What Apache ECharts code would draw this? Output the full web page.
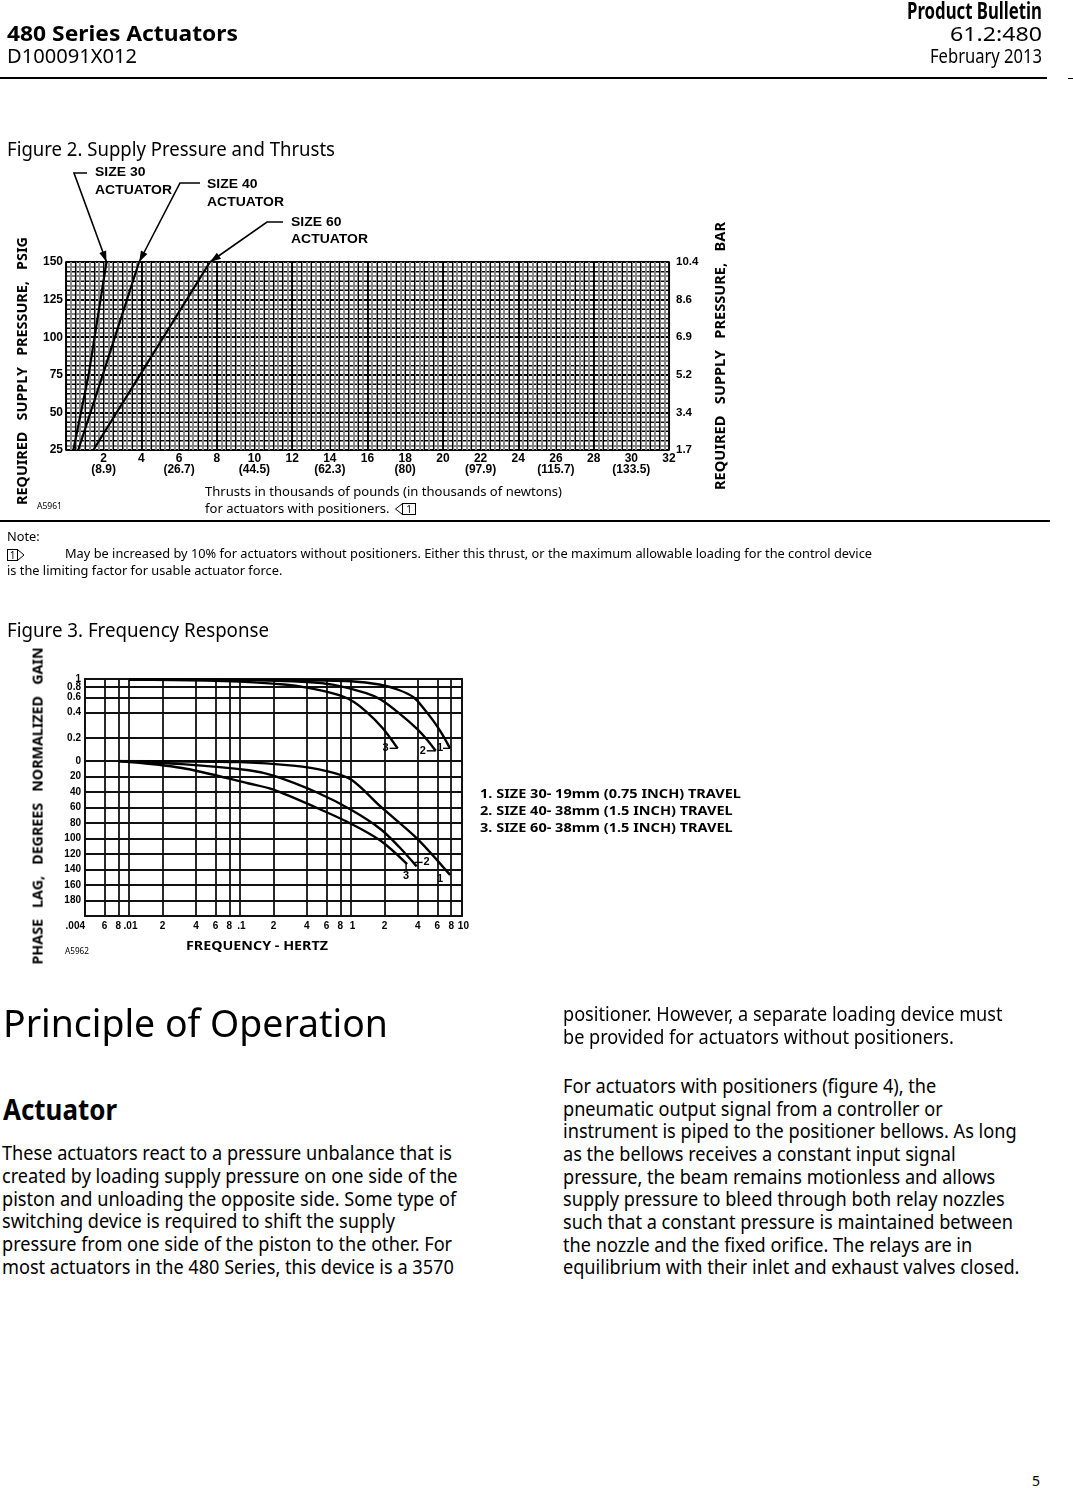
<!DOCTYPE html>
<html>
<head>
<meta charset="utf-8">
<title>480 Series Actuators</title>
<script src="https://cdn.jsdelivr.net/npm/echarts@6.0.0/dist/echarts.min.js"></script>
<style>
html,body{margin:0;padding:0;background:#fff;}
body{position:relative;width:1073px;height:1488px;overflow:hidden;font-family:'Noto Sans',sans-serif;color:#000;}
#chart{position:absolute;left:0;top:0;width:1073px;height:1000px;}
.tx{position:absolute;white-space:pre;line-height:1;transform-origin:0 0;color:#000;}
.rule{position:absolute;background:#000;}
svg.sym{position:absolute;left:0;top:0;overflow:visible;}
</style>
</head>
<body>
<div id="chart"></div>
<div class="rule" style="left:0;top:77px;width:1047px;height:2px"></div>
<div class="rule" style="left:1068px;top:78px;width:5px;height:1px"></div>
<div class="rule" style="left:0;top:520px;width:1050px;height:2px"></div>
<svg class="sym" width="1073" height="600">
  <polyline points="402.5,503.5 395.5,509 402.5,514.5" fill="none" stroke="#000" stroke-width="1"/>
  <rect x="402.5" y="503.5" width="13" height="11" fill="none" stroke="#000" stroke-width="1"/>
  <text x="409" y="513" font-family="Noto Sans" font-size="10" text-anchor="middle">1</text>
  <rect x="7.5" y="549.5" width="10" height="11" fill="none" stroke="#000" stroke-width="1"/>
  <polyline points="17.5,549.5 24,555 17.5,560.5" fill="none" stroke="#000" stroke-width="1"/>
  <text x="12.5" y="559" font-family="Noto Sans" font-size="10" text-anchor="middle">1</text>
</svg>
<script>
// ================= DATA =================
// Figure 2 – supply pressure vs thrust
const thrustTicks   = [2,4,6,8,10,12,14,16,18,20,22,24,26,28,30,32];
const thrustNewtons = ['(8.9)','','(26.7)','','(44.5)','','(62.3)','','(80)','','(97.9)','','(115.7)','','(133.5)',''];
const psiTicks  = [25,50,75,100,125,150];
const barLabels = ['1.7','3.4','5.2','6.9','8.6','10.4'];
const size30 = [[0.39,25],[1.2,75],[2.15,150]];
const size40 = [[0.65,25],[1.95,75],[3.88,150]];
const size60 = [[1.45,25],[3.93,75],[7.64,150]];

// Figure 3 – frequency response
const freqGrid   = [0.004,0.006,0.008,0.01,0.02,0.04,0.06,0.08,0.1,0.2,0.4,0.6,0.8,1,2,4,6,8,10];
const freqLabels = ['.004','6','8','.01','2','4','6','8','.1','2','4','6','8','1','2','4','6','8','10'];
const gainTicks  = [0.2,0.4,0.6,0.8,1];
const gainLabels = ['0.2','0.4','0.6','0.8','1'];
const gainFloor  = 0.106;   // gain value that sits on the "0" line
const phaseTicks = [0,20,40,60,80,100,120,140,160,180];
const gain1 = [[0.01,0.985],[0.3,0.975],[1,0.94],[1.8,0.86],[2.7,0.74],[3.7,0.6],[4.5,0.45],[5.5,0.32],[6.5,0.23],[7.8,0.15]];
const gain2 = [[0.01,0.985],[0.1,0.97],[0.4,0.92],[0.7,0.85],[1.37,0.68],[1.85,0.57],[2.72,0.39],[4.0,0.25],[5.0,0.18],[5.8,0.14]];
const gain3 = [[0.01,0.985],[0.05,0.96],[0.1,0.93],[0.25,0.86],[0.4,0.79],[0.7,0.67],[1.0,0.56],[1.37,0.41],[1.93,0.26],[2.63,0.15]];
const phase1 = [[0.008,0],[0.1,1.5],[0.3,6],[0.6,13],[1,24],[1.85,59],[4,101],[7.8,147]];
const phase2 = [[0.008,0],[0.03,4],[0.12,12],[0.2,19],[0.5,41],[1,63],[1.85,88],[2.72,111],[3.9,136]];
const phase3 = [[0.008,0],[0.03,9],[0.12,29],[0.2,37],[0.5,61],[1,81],[1.85,103],[3.2,133]];

// ================= CHART =================
const LG = Math.log10;
const FONT = 'Liberation Sans, Arial, sans-serif';
const chart = echarts.init(document.getElementById('chart'), null, {renderer:'canvas'});
const hid = {axisLine:{show:false}, axisTick:{show:false}, axisLabel:{show:false}};
const lbl = {fontFamily:FONT, fontWeight:'bold', fontSize:12, color:'#000'};
const lbl3 = {fontFamily:FONT, fontWeight:'bold', fontSize:10, color:'#000'};
const freqLog = freqGrid.map(LG);
const gainLog = gainTicks.map(LG);
const fmtFreq = v => {
  const i = freqLog.findIndex(f => Math.abs(f - v) < 1e-6); if (i < 0) return '';
  const s = freqLabels[i];
  return (i > 0 && freqLabels[i - 1] === '8') ? ' ' + s : s;
};
const fmtGain = v => { const i = gainLog.findIndex(g => Math.abs(g - v) < 1e-6); return i < 0 ? '' : gainLabels[i]; };
// one label axis per crowded gain value so none is dropped by overlap handling
const gainLabelAxis = (vals, withLines) => ({gridIndex:1, type:'value', min:LG(gainFloor), max:0,
  position:'left', offset:0,
  axisLine:{show:false}, axisTick:{show:false, customValues:withLines ? gainLog : vals},
  axisLabel:Object.assign({customValues:vals, margin:4, hideOverlap:false, showMinLabel:true, showMaxLabel:true, formatter:fmtGain}, lbl3),
  splitLine:{show:!!withLines, lineStyle:{color:'#111', width:1.8}}});

const option = {
  animation:false,
  backgroundColor:'transparent',
  grid:[
    {left:66, top:262, width:603, height:188, show:true, borderColor:'#000', borderWidth:1.6, outerBoundsMode:'none'},
    {left:85, top:679, width:377, height:82, show:true, borderColor:'#000', borderWidth:1.8, outerBoundsMode:'none'},
    {left:85, top:761, width:377, height:155, show:true, borderColor:'#000', borderWidth:1.8, outerBoundsMode:'none'}
  ],
  xAxis:[
    Object.assign({gridIndex:0, type:'value', min:0, max:32, interval:0.25, position:'top',
      splitLine:{lineStyle:{color:'#858585', width:1.9}}}, hid),
    Object.assign({gridIndex:0, type:'value', min:0, max:32, interval:0.5, position:'top', offset:20,
      splitLine:{lineStyle:{color:'#000', width:1.1}}}, hid),
    Object.assign({gridIndex:0, type:'value', min:0, max:32, interval:4, position:'top', offset:40,
      splitLine:{lineStyle:{color:'#000', width:1.8}}}, hid),
    {gridIndex:0, type:'value', min:0, max:32, interval:2, position:'bottom',
      axisLine:{show:false}, axisTick:{show:false},
      splitLine:{show:false},
      axisLabel:{margin:3, showMinLabel:true, showMaxLabel:true, formatter:(v)=>{
        const i = thrustTicks.indexOf(v); if (i < 0) return '';
        return thrustNewtons[i] ? '{a|'+thrustTicks[i]+'}\n{a|'+thrustNewtons[i]+'}' : '{a|'+thrustTicks[i]+'}';
      }, rich:{a:Object.assign({lineHeight:11}, lbl)}}},
    {gridIndex:1, type:'value', min:LG(0.004), max:1,
      axisLine:{show:false}, axisTick:{show:false, customValues:freqLog}, axisLabel:{show:false},
      splitLine:{lineStyle:{color:'#111', width:1.8}}},
    {gridIndex:2, type:'value', min:LG(0.004), max:1,
      axisLine:{show:false}, axisTick:{show:false, customValues:freqLog},
      axisLabel:Object.assign({customValues:freqLog, formatter:fmtFreq, margin:5, alignMinLabel:'right', alignMaxLabel:'center', hideOverlap:false, showMinLabel:true, showMaxLabel:true}, lbl3),
      splitLine:{lineStyle:{color:'#111', width:1.8}}}
  ],
  yAxis:[
    Object.assign({gridIndex:0, type:'value', min:25, max:150, interval:3.125, position:'right', offset:40,
      splitLine:{lineStyle:{color:'#858585', width:1.9}}}, hid),
    Object.assign({gridIndex:0, type:'value', min:25, max:150, interval:6.25, position:'right', offset:60,
      splitLine:{lineStyle:{color:'#000', width:1.1}}}, hid),
    {gridIndex:0, type:'value', min:25, max:150, interval:25, position:'left',
      axisLine:{show:false}, axisTick:{show:false},
      axisLabel:Object.assign({margin:3, showMinLabel:true, showMaxLabel:true}, lbl),
      splitLine:{lineStyle:{color:'#000', width:1.8}}},
    {gridIndex:0, type:'value', min:25, max:150, interval:25, position:'right',
      axisLine:{show:false}, axisTick:{show:false}, splitLine:{show:false},
      axisLabel:Object.assign({margin:7, showMinLabel:true, showMaxLabel:true, formatter:(v)=>{const i = psiTicks.indexOf(v); return i < 0 ? '' : barLabels[i];}}, lbl, {fontSize:11.5})},
    gainLabelAxis([LG(0.2), LG(0.4), LG(0.6)], true),
    {gridIndex:2, type:'value', min:0, max:200, interval:20, inverse:true, position:'left',
      axisLine:{show:false}, axisTick:{show:false},
      axisLabel:Object.assign({margin:4, hideOverlap:false, showMinLabel:true, formatter:(v)=> phaseTicks.indexOf(v) < 0 ? '' : String(v)}, lbl3),
      splitLine:{lineStyle:{color:'#111', width:1.8}}},
    gainLabelAxis([LG(0.8)], false),
    gainLabelAxis([LG(1)], false)
  ],
  series:[]
};
const line2 = (name, d) => ({name, type:'line', xAxisIndex:3, yAxisIndex:2, data:d, symbol:'none', silent:true,
  lineStyle:{color:'#000', width:2.2}, z:5});
const gainS = (name, d) => ({name, type:'line', xAxisIndex:4, yAxisIndex:4, symbol:'none', silent:true, smooth:0.3,
  data:d.map(p => [LG(p[0]), LG(p[1])]), lineStyle:{color:'#000', width:2.4}, z:5});
const phaseS = (name, d) => ({name, type:'line', xAxisIndex:5, yAxisIndex:5, symbol:'none', silent:true, smooth:0.3,
  data:d.map(p => [LG(p[0]), p[1]]), lineStyle:{color:'#000', width:2.4}, z:5});
option.series = [
  line2('Size 30', size30), line2('Size 40', size40), line2('Size 60', size60),
  gainS('Gain 1', gain1), gainS('Gain 2', gain2), gainS('Gain 3', gain3),
  phaseS('Phase 1', phase1), phaseS('Phase 2', phase2), phaseS('Phase 3', phase3)
];
chart.setOption(option);

// ---------- annotations anchored on data ----------
const last = a => a[a.length - 1];
const toPx2 = p => chart.convertToPixel({xAxisIndex:3, yAxisIndex:2}, p);
const toPxG = p => chart.convertToPixel({xAxisIndex:4, yAxisIndex:4}, [LG(p[0]), LG(p[1])]);
const toPxP = p => chart.convertToPixel({xAxisIndex:5, yAxisIndex:5}, [LG(p[0]), p[1]]);
function head(from, tip, L, W) {
  const dx = tip[0] - from[0], dy = tip[1] - from[1], len = Math.hypot(dx, dy);
  const ux = dx / len, uy = dy / len, bx = tip[0] - ux * L, by = tip[1] - uy * L;
  return {type:'polygon', z:20, shape:{points:[tip, [bx - uy * W, by + ux * W], [bx + uy * W, by - ux * W]]}, style:{fill:'#000'}};
}
const graphics = [];
const leaders = [
  {tip: toPx2(last(size30)), pts: [[87,173],[74,173]]},
  {tip: toPx2(last(size40)), pts: [[200,183],[180,183]]},
  {tip: toPx2(last(size60)), pts: [[283,222],[267,222]]}
];
leaders.forEach(l => {
  graphics.push({type:'polyline', z:20, shape:{points:l.pts.concat([l.tip])}, style:{stroke:'#000', lineWidth:1.6, fill:null}});
  graphics.push(head(l.pts[l.pts.length - 1], l.tip, 11, 3.6));
});
const endTxt = (x, y, t) => ({type:'text', z:20, x, y, style:{text:t, font:'bold 11px ' + FONT, fill:'#000', align:'center', verticalAlign:'middle'}});
const seg = (a, b) => ({type:'line', z:20, shape:{x1:a[0], y1:a[1], x2:b[0], y2:b[1]}, style:{stroke:'#000', lineWidth:1.4}});
let e;
e = toPxG(last(gain3)); graphics.push(endTxt(e[0] - 12, e[1], '3'), seg([e[0] - 8, e[1]], e));
e = toPxG(last(gain2)); graphics.push(endTxt(e[0] - 13, e[1], '2'), seg([e[0] - 9, e[1]], e));
e = toPxG(last(gain1)); graphics.push(endTxt(e[0] - 10, e[1], '1'), seg([e[0] - 7, e[1]], e));
e = toPxP(last(phase2)); graphics.push(seg([e[0] - 2, e[1] - 4], [e[0] + 6, e[1] - 4]), endTxt(e[0] + 10, e[1] - 4, '2'));
e = toPxP(last(phase3)); graphics.push(seg([e[0] - 1, e[1] - 2], [e[0] - 1, e[1] + 6]), endTxt(e[0] - 1, e[1] + 12, '3'));
e = toPxP(last(phase1)); graphics.push(seg([e[0] - 3, e[1] - 4], [e[0] + 1, e[1]]), endTxt(e[0] - 10, e[1] + 4, '1'));
chart.setOption({graphic:{elements:graphics}});

// ================= PAGE TEXT =================
const items = [
  {t:'Product Bulletin', x:1042, y:11, s:24, w:135, b:1, a:'r'},
  {t:'480 Series Actuators', x:7, y:33, s:22, w:231, b:1},
  {t:'61.2:480', x:1042, y:35, s:19, w:92, a:'r'},
  {t:'D100091X012', x:7, y:57, s:19, w:130},
  {t:'February 2013', x:1042, y:57, s:19, w:112, a:'r'},
  {t:'Figure 2. Supply Pressure and Thrusts', x:7, y:150, s:19, w:328},
  {t:'ACTUATOR', x:95, y:190, s:13.5, w:77, b:1, f:FONT, g:'act'},
  {t:'SIZE 30', x:95, y:172, s:13.5, b:1, f:FONT, g:'act'},
  {t:'SIZE 40', x:207, y:184, s:13.5, b:1, f:FONT, g:'act'},
  {t:'ACTUATOR', x:207, y:202, s:13.5, b:1, f:FONT, g:'act'},
  {t:'SIZE 60', x:291, y:222, s:13.5, b:1, f:FONT, g:'act'},
  {t:'ACTUATOR', x:291, y:239, s:13.5, b:1, f:FONT, g:'act'},
  {t:'REQUIRED   SUPPLY   PRESSURE,   PSIG', x:22, y:371, s:14, w:268, b:1, rot:1},
  {t:'REQUIRED   SUPPLY   PRESSURE,   BAR', x:720, y:356, s:14, w:268, b:1, rot:1},
  {t:'Thrusts in thousands of pounds (in thousands of newtons)', x:205, y:492, s:13, w:357, g:'thr'},
  {t:'for actuators with positioners.', x:205, y:509, s:13, g:'thr'},
  {t:'A5961', x:37, y:506, s:9, w:25},
  {t:'May be increased by 10% for actuators without positioners. Either this thrust, or the maximum allowable loading for the control device', x:65, y:555, s:12.5, w:807, g:'note'},
  {t:'Note:', x:7, y:538, s:12.5, g:'note'},
  {t:'is the limiting factor for usable actuator force.', x:7, y:572, s:12.5, g:'note'},
  {t:'Figure 3. Frequency Response', x:7, y:631, s:19, w:262},
  {t:'1. SIZE 30- 19mm (0.75 INCH) TRAVEL', x:480, y:794, s:13, w:261, b:1, g:'leg'},
  {t:'2. SIZE 40- 38mm (1.5 INCH) TRAVEL', x:480, y:811, s:13, b:1, g:'leg'},
  {t:'3. SIZE 60- 38mm (1.5 INCH) TRAVEL', x:480, y:828, s:13, b:1, g:'leg'},
  {t:'PHASE   LAG,   DEGREES   NORMALIZED   GAIN', x:38, y:806, s:14, w:317, b:1, rot:1},
  {t:'FREQUENCY - HERTZ', x:186, y:946, s:13, w:142, b:1},
  {t:'A5962', x:65, y:951, s:9, w:24},
  {t:'Principle of Operation', x:3, y:1023, s:38, w:385},
  {t:'Actuator', x:3, y:1110, s:28, w:114, b:1},
  {t:'These actuators react to a pressure unbalance that is', x:2, y:1153, s:20.5, w:450, g:'body'},
  {t:'created by loading supply pressure on one side of the', x:2, y:1175.7, s:20.5, g:'body'},
  {t:'piston and unloading the opposite side. Some type of', x:2, y:1198.4, s:20.5, g:'body'},
  {t:'switching device is required to shift the supply', x:2, y:1221.1, s:20.5, g:'body'},
  {t:'pressure from one side of the piston to the other. For', x:2, y:1243.8, s:20.5, g:'body'},
  {t:'most actuators in the 480 Series, this device is a 3570', x:2, y:1266.5, s:20.5, g:'body'},
  {t:'positioner. However, a separate loading device must', x:563, y:1014, s:20.5, g:'body'},
  {t:'be provided for actuators without positioners.', x:563, y:1036.7, s:20.5, g:'body'},
  {t:'For actuators with positioners (figure 4), the', x:563, y:1085.7, s:20.5, g:'body'},
  {t:'pneumatic output signal from a controller or', x:563, y:1108.4, s:20.5, g:'body'},
  {t:'instrument is piped to the positioner bellows. As long', x:563, y:1131.1, s:20.5, g:'body'},
  {t:'as the bellows receives a constant input signal', x:563, y:1153.8, s:20.5, g:'body'},
  {t:'pressure, the beam remains motionless and allows', x:563, y:1176.5, s:20.5, g:'body'},
  {t:'supply pressure to bleed through both relay nozzles', x:563, y:1199.2, s:20.5, g:'body'},
  {t:'such that a constant pressure is maintained between', x:563, y:1221.9, s:20.5, g:'body'},
  {t:'the nozzle and the fixed orifice. The relays are in', x:563, y:1244.6, s:20.5, g:'body'},
  {t:'equilibrium with their inlet and exhaust valves closed.', x:563, y:1267.3, s:20.5, g:'body'},
  {t:'5', x:1032, y:1481, s:14}
];
const groups = {};
const els = items.map(it => {
  const el = document.createElement('div');
  el.className = 'tx';
  el.textContent = it.t;
  el.style.fontSize = it.s + 'px';
  el.style.fontWeight = it.b ? '700' : '400';
  if (it.f) el.style.fontFamily = it.f;
  document.body.appendChild(el);
  return el;
});
items.forEach((it, i) => {
  it.nw = els[i].getBoundingClientRect().width;
  if (it.w) { it.k = it.w / it.nw; if (it.g) groups[it.g] = it.k; }
});
items.forEach((it, i) => {
  const k = it.k || (it.g && groups[it.g]) || 1;
  const el = els[i];
  if (it.rot) {
    el.style.left = (it.x - it.nw / 2) + 'px';
    el.style.top = (it.y - it.s / 2) + 'px';
    el.style.transformOrigin = '50% 50%';
    el.style.transform = 'rotate(-90deg) scaleX(' + k + ')';
  } else {
    const w = it.nw * k;
    el.style.left = (it.a === 'r' ? it.x - w : it.x) + 'px';
    el.style.top = (it.y - it.s * 0.53) + 'px';
    el.style.transform = 'scaleX(' + k + ')';
  }
});
</script>
</body>
</html>
